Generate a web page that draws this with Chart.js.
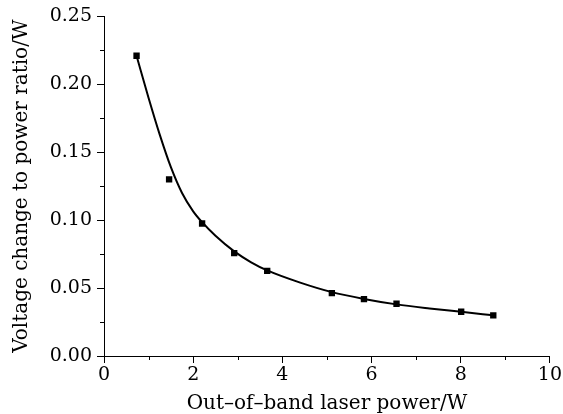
<!DOCTYPE html>
<html>
<head>
<meta charset="utf-8">
<script src="https://cdn.jsdelivr.net/npm/chart.js@4/dist/chart.umd.min.js"></script>
<style>
  html, body { margin: 0; padding: 0; background: #fff; }
  #wrap { width: 563px; height: 414px; }
</style>
</head>
<body>
<div id="wrap"><canvas id="chart" width="563" height="414"></canvas></div>
<script>
// Measured points
const powerW = [0.73, 1.46, 2.2, 2.92, 3.66, 5.11, 5.83, 6.56, 8.01, 8.73];
const ratio = [0.221, 0.130, 0.0975, 0.0757, 0.0627, 0.0463, 0.0419, 0.0385, 0.0326, 0.0299];

// Fitted curve
const fitX = [0.73, 1.0, 1.25, 1.5, 1.75, 2.0, 2.2, 2.5, 2.92, 3.3, 3.66, 4.4, 5.11, 5.83, 6.56, 7.3, 8.01, 8.73];
const fitY = [0.221, 0.190, 0.163, 0.139, 0.120, 0.1065, 0.0985, 0.0885, 0.077, 0.069, 0.063, 0.054, 0.047, 0.042, 0.038, 0.035, 0.0325, 0.030];

const xTicks = [0, 2, 4, 6, 8, 10];
const yTicks = [0, 0.05, 0.10, 0.15, 0.20, 0.25];

const fontFamily = '"DejaVu Serif", "Liberation Serif", serif';

// small ticks halfway between the labelled ones
const minorTicks = {
    id: 'minorTicks',
    afterDraw(chart) {
        const ctx = chart.ctx;
        const xs = chart.scales.x;
        const ys = chart.scales.y;
        ctx.save();
        ctx.strokeStyle = '#000';
        ctx.lineWidth = 1;
        for (let i = 0; i < xTicks.length - 1; i++) {
            const px = Math.round(xs.getPixelForValue((xTicks[i] + xTicks[i + 1]) / 2)) + 0.5;
            ctx.beginPath();
            ctx.moveTo(px, xs.top);
            ctx.lineTo(px, xs.top + 4);
            ctx.stroke();
        }
        for (let i = 0; i < yTicks.length - 1; i++) {
            const py = Math.round(ys.getPixelForValue((yTicks[i] + yTicks[i + 1]) / 2)) + 0.5;
            ctx.beginPath();
            ctx.moveTo(ys.right, py);
            ctx.lineTo(ys.right - 4, py);
            ctx.stroke();
        }
        ctx.restore();
    }
};

new Chart(document.getElementById('chart'), {
    type: 'scatter',
    data: {
        datasets: [{
            label: 'fit',
            data: fitX.map((x, i) => ({ x: x, y: fitY[i] })),
            showLine: true,
            borderColor: '#000',
            borderWidth: 2,
            pointRadius: 0,
            cubicInterpolationMode: 'monotone',
            order: 2
        }, {
            label: 'measured',
            data: powerW.map((x, i) => ({ x: x, y: ratio[i] })),
            pointStyle: 'rect',
            pointRadius: 4.5,
            backgroundColor: '#000',
            borderColor: '#000',
            borderWidth: 0,
            order: 1
        }]
    },
    options: {
        responsive: false,
        animation: false,
        layout: { padding: { top: 16, right: 10, left: 0, bottom: 0 } },
        plugins: {
            legend: { display: false },
            tooltip: { enabled: false }
        },
        scales: {
            x: {
                type: 'linear',
                min: 0,
                max: 10,
                afterBuildTicks: scale => { scale.ticks = xTicks.map(v => ({ value: v })); },
                afterFit: scale => { scale.height = 58; },
                border: { color: '#000', width: 1 },
                grid: { drawOnChartArea: false, color: '#000', tickLength: 7 },
                ticks: {
                    color: '#000',
                    padding: 1,
                    font: { family: fontFamily, size: 19 },
                    maxRotation: 0,
                    callback: v => String(v)
                },
                title: {
                    display: true,
                    text: 'Out–of–band laser power/W',
                    color: '#000',
                    font: { family: fontFamily, size: 20 },
                    padding: { top: -4, bottom: -2 }
                }
            },
            y: {
                type: 'linear',
                min: 0,
                max: 0.25,
                afterBuildTicks: scale => { scale.ticks = yTicks.map(v => ({ value: v })); },
                afterFit: scale => { scale.width = 104; },
                border: { color: '#000', width: 1 },
                grid: { drawOnChartArea: false, color: '#000', tickLength: 7 },
                ticks: {
                    color: '#000',
                    padding: 5,
                    font: { family: fontFamily, size: 19 },
                    callback: v => v.toFixed(2)
                },
                title: {
                    display: true,
                    text: 'Voltage change to power ratio/W',
                    color: '#000',
                    font: { family: fontFamily, size: 20 },
                    padding: { top: 10, bottom: 0 }
                }
            }
        }
    },
    plugins: [minorTicks]
});
</script>
</body>
</html>
